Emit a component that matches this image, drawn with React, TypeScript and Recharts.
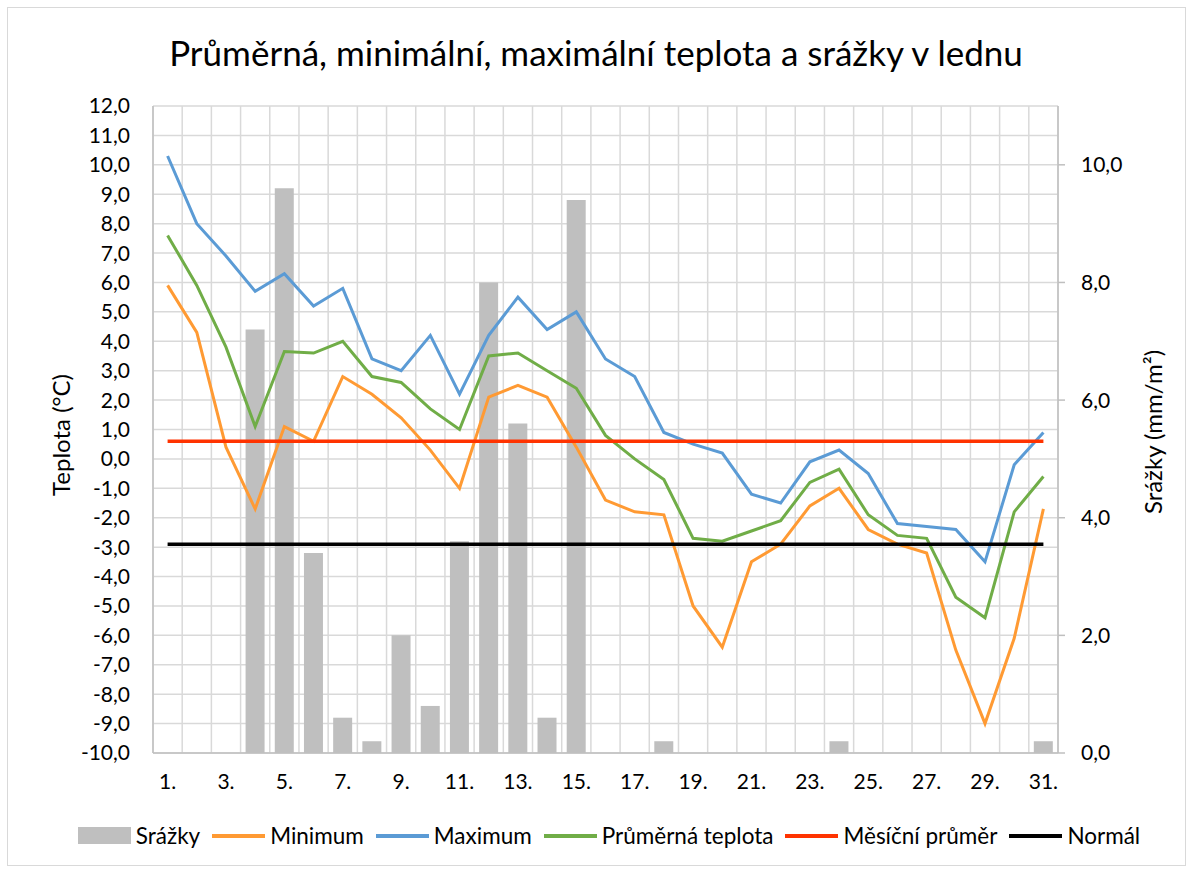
import React from 'react';
import {
    ComposedChart, Bar, Line, XAxis, YAxis, CartesianGrid,
} from 'recharts';

const days = [
    '1.', '2.', '3.', '4.', '5.', '6.', '7.', '8.', '9.', '10.',
    '11.', '12.', '13.', '14.', '15.', '16.', '17.', '18.', '19.', '20.',
    '21.', '22.', '23.', '24.', '25.', '26.', '27.', '28.', '29.', '30.', '31.',
];

// srážky v mm/m2 (pravá osa)
const precip = [0, 0, 0, 7.2, 9.6, 3.4, 0.6, 0.2, 2.0, 0.8, 3.6, 8.0, 5.6, 0.6, 9.4, 0, 0, 0.2, 0, 0, 0, 0, 0, 0.2, 0, 0, 0, 0, 0, 0, 0.2];

const tMin = [5.9, 4.3, 0.4, -1.7, 1.1, 0.6, 2.8, 2.2, 1.4, 0.3, -1.0, 2.1, 2.5, 2.1, 0.4, -1.4, -1.8, -1.9, -5.0, -6.4, -3.5, -2.9, -1.6, -1.0, -2.4, -2.9, -3.2, -6.5, -9.0, -6.1, -1.7];
const tMax = [10.3, 8.0, 6.9, 5.7, 6.3, 5.2, 5.8, 3.4, 3.0, 4.2, 2.2, 4.2, 5.5, 4.4, 5.0, 3.4, 2.8, 0.9, 0.5, 0.2, -1.2, -1.5, -0.1, 0.3, -0.5, -2.2, -2.3, -2.4, -3.5, -0.2, 0.9];
const tAvg = [7.6, 5.9, 3.8, 1.1, 3.65, 3.6, 4.0, 2.8, 2.6, 1.7, 1.0, 3.5, 3.6, 3.0, 2.4, 0.8, 0.0, -0.7, -2.7, -2.8, -2.45, -2.1, -0.8, -0.35, -1.9, -2.6, -2.7, -4.7, -5.4, -1.8, -0.6];

const monthlyMean = 0.6;
const normal = -2.9;

const tempTicks = [-10, -9, -8, -7, -6, -5, -4, -3, -2, -1, 0, 1, 2, 3, 4, 5, 6, 7, 8, 9, 10, 11, 12];
const precipTicks = [0, 2, 4, 6, 8, 10];

const chartData = days.map((d, i) => ({
    day: d,
    precip: precip[i],
    min: tMin[i],
    max: tMax[i],
    avg: tAvg[i],
    mean: monthlyMean,
    normal: normal,
}));

const LEGEND = [
    { label: 'Srážky', color: '#BFBFBF', bar: true },
    { label: 'Minimum', color: '#FF9A33' },
    { label: 'Maximum', color: '#5B9BD5' },
    { label: 'Průměrná teplota', color: '#70AD47' },
    { label: 'Měsíční průměr', color: '#FF3300' },
    { label: 'Normál', color: '#000000' },
];

const FONT = 'Lato, "Open Sans", sans-serif';
const fmt = (v: number) => v.toFixed(1).replace('.', ',');

export default function App() {
    const W = 1192;
    const H = 872;

    return (
        <div style={{ position: 'absolute', left: 0, top: 0, width: W, height: H, background: '#fff', fontFamily: FONT, color: '#000' }}>
            <div style={{ position: 'absolute', left: 7, top: 7, width: 1177, height: 857, border: '1px solid #D9D9D9' }} />

            <div style={{ position: 'absolute', left: 0, width: W, top: 29, textAlign: 'center', fontSize: 35, lineHeight: '46px' }}>
                Průměrná, minimální, maximální teplota a srážky v lednu
            </div>

            <div style={{ position: 'absolute', left: 60, top: 435, transform: 'translate(-50%, -50%) rotate(-90deg)', fontSize: 24, whiteSpace: 'nowrap' }}>
                Teplota (°C)
            </div>
            <div style={{ position: 'absolute', left: 1152, top: 432, transform: 'translate(-50%, -50%) rotate(-90deg)', fontSize: 24, whiteSpace: 'nowrap' }}>
                Srážky (mm/m²)
            </div>

            <div style={{ position: 'absolute', left: 0, top: 0 }}>
                <ComposedChart
                    width={W}
                    height={H}
                    data={chartData}
                    margin={{ top: 106, right: 0, bottom: 79, left: 0 }}
                    barSize={19}
                >
                    <CartesianGrid
                        yAxisId="left"
                        stroke="#D9D9D9"
                        strokeWidth={1.5}
                        verticalCoordinatesGenerator={({ offset }: any) =>
                            Array.from({ length: days.length + 1 }, (_, i) => offset.left + (i * offset.width) / days.length)
                        }
                    />
                    <XAxis
                        dataKey="day"
                        interval={1}
                        tickLine={false}
                        tickSize={0}
                        tickMargin={21}
                        height={40}
                        axisLine={{ stroke: '#BFBFBF', strokeWidth: 1.5 }}
                        tick={{ fontSize: 21, fill: '#000', fontFamily: FONT }}
                    />
                    <YAxis
                        yAxisId="left"
                        orientation="left"
                        width={153}
                        domain={[-10, 12]}
                        ticks={tempTicks}
                        interval={0}
                        tickFormatter={fmt}
                        tickLine={false}
                        tickSize={0}
                        tickMargin={23}
                        axisLine={{ stroke: '#BFBFBF', strokeWidth: 1.5 }}
                        tick={{ fontSize: 21, fill: '#000', fontFamily: FONT }}
                    />
                    <YAxis
                        yAxisId="right"
                        orientation="right"
                        width={134}
                        domain={[0, 11]}
                        ticks={precipTicks}
                        interval={0}
                        tickFormatter={fmt}
                        tickSize={7}
                        tickLine={{ stroke: '#BFBFBF', strokeWidth: 1.5 }}
                        tickMargin={16}
                        axisLine={{ stroke: '#BFBFBF', strokeWidth: 1.5 }}
                        tick={{ fontSize: 21, fill: '#000', fontFamily: FONT }}
                    />
                    <Bar yAxisId="right" dataKey="precip" fill="#BFBFBF" isAnimationActive={false} />
                    <Line yAxisId="left" dataKey="min" stroke="#FF9A33" strokeWidth={3} dot={false} isAnimationActive={false} />
                    <Line yAxisId="left" dataKey="max" stroke="#5B9BD5" strokeWidth={3} dot={false} isAnimationActive={false} />
                    <Line yAxisId="left" dataKey="avg" stroke="#70AD47" strokeWidth={3} dot={false} isAnimationActive={false} />
                    <Line yAxisId="left" dataKey="mean" stroke="#FF3300" strokeWidth={3.5} dot={false} isAnimationActive={false} />
                    <Line yAxisId="left" dataKey="normal" stroke="#000000" strokeWidth={3.5} dot={false} isAnimationActive={false} />
                </ComposedChart>
            </div>

            <div style={{ position: 'absolute', left: 0, width: W, top: 822, paddingLeft: 26, boxSizing: 'border-box', display: 'flex', justifyContent: 'center', alignItems: 'center', fontSize: 22.5 }}>
                {LEGEND.map((item, i) => (
                    <div key={item.label} style={{ display: 'flex', alignItems: 'center', marginRight: i < LEGEND.length - 1 ? 12 : 0 }}>
                        <span
                            style={{
                                display: 'inline-block',
                                width: 53,
                                height: item.bar ? 17 : 4,
                                background: item.color,
                                marginRight: 5,
                            }}
                        />
                        <span style={{ whiteSpace: 'nowrap' }}>{item.label}</span>
                    </div>
                ))}
            </div>
        </div>
    );
}
